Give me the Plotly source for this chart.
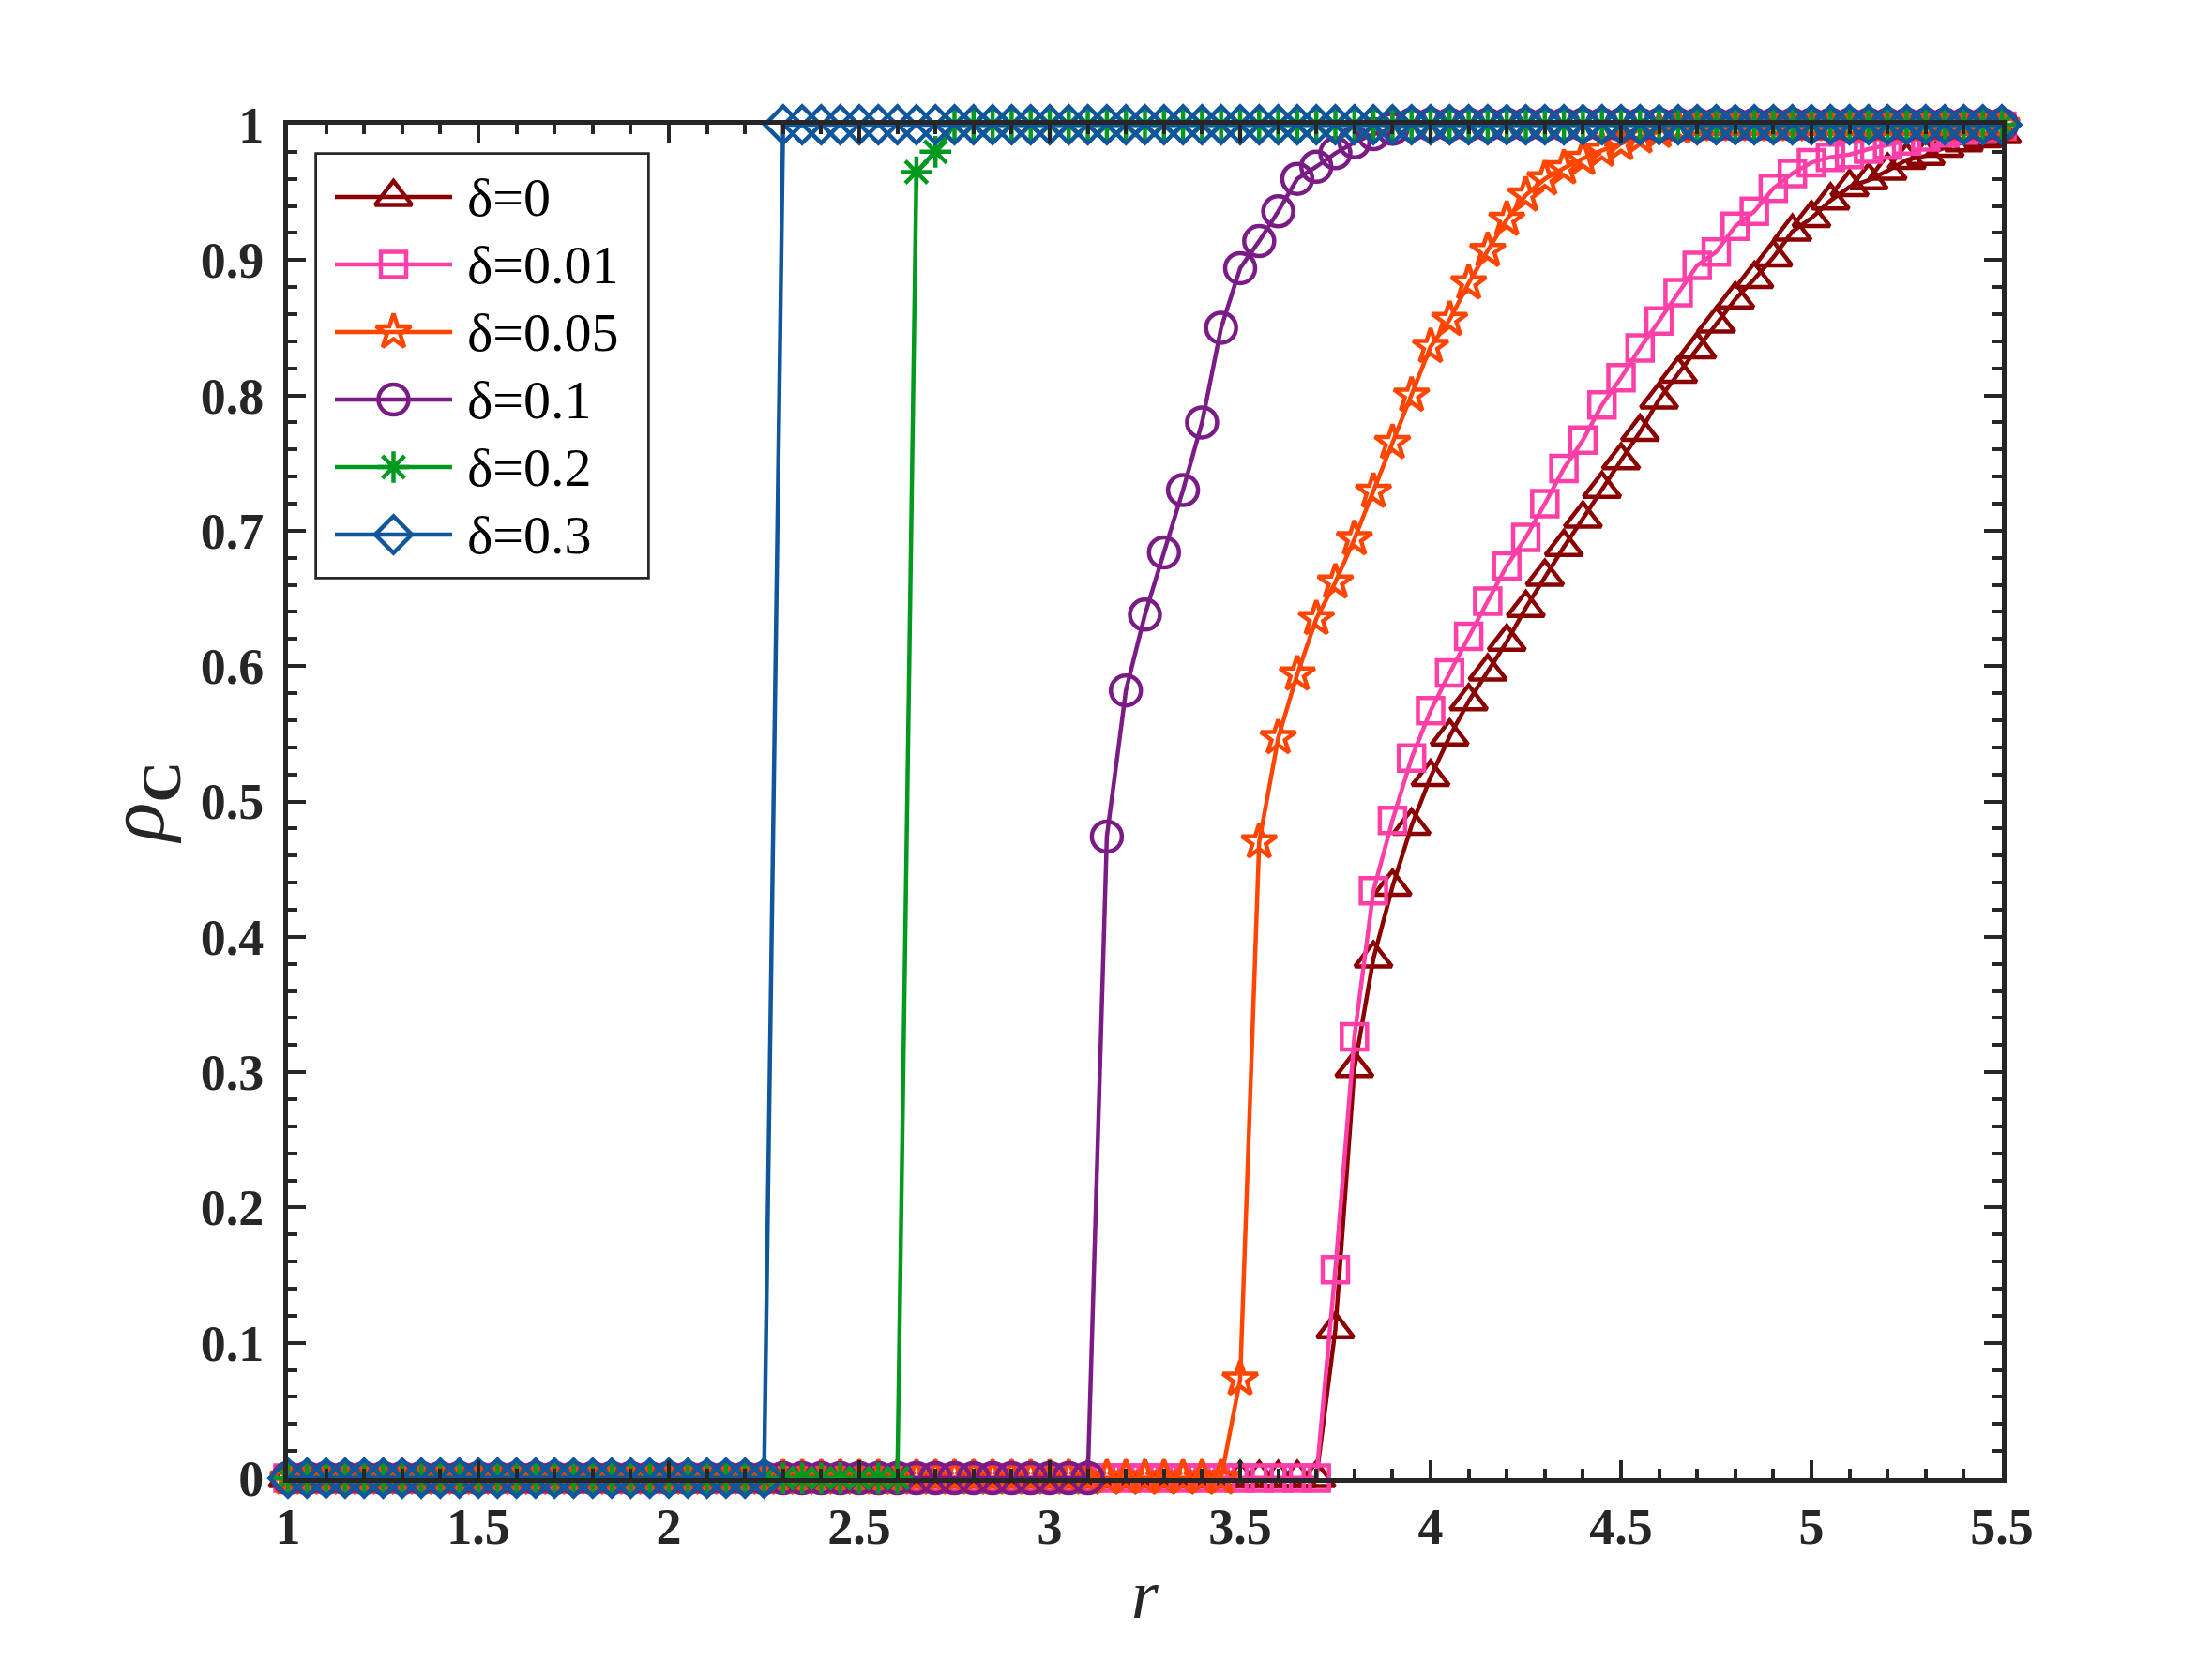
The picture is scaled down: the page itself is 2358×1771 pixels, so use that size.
import plotly.graph_objects as go

# ---------------- data ----------------
r = [1.00, 1.05, 1.10, 1.15, 1.20, 1.25, 1.30, 1.35, 1.40, 1.45,
     1.50, 1.55, 1.60, 1.65, 1.70, 1.75, 1.80, 1.85, 1.90, 1.95,
     2.00, 2.05, 2.10, 2.15, 2.20, 2.25, 2.30, 2.35, 2.40, 2.45,
     2.50, 2.55, 2.60, 2.65, 2.70, 2.75, 2.80, 2.85, 2.90, 2.95,
     3.00, 3.05, 3.10, 3.15, 3.20, 3.25, 3.30, 3.35, 3.40, 3.45,
     3.50, 3.55, 3.60, 3.65, 3.70, 3.75, 3.80, 3.85, 3.90, 3.95,
     4.00, 4.05, 4.10, 4.15, 4.20, 4.25, 4.30, 4.35, 4.40, 4.45,
     4.50, 4.55, 4.60, 4.65, 4.70, 4.75, 4.80, 4.85, 4.90, 4.95,
     5.00, 5.05, 5.10, 5.15, 5.20, 5.25, 5.30, 5.35, 5.40, 5.45,
     5.50]

rho_d0 = [0, 0, 0, 0, 0, 0, 0, 0, 0, 0,
          0, 0, 0, 0, 0, 0, 0, 0, 0, 0,
          0, 0, 0, 0, 0, 0, 0, 0, 0, 0,
          0, 0, 0, 0, 0, 0, 0, 0, 0, 0,
          0, 0, 0, 0, 0, 0, 0, 0, 0, 0,
          0, 0, 0, 0, 0, 0.110, 0.303, 0.384, 0.437, 0.482,
          0.518, 0.548, 0.574, 0.596, 0.618, 0.643, 0.666, 0.688, 0.709, 0.731,
          0.752, 0.773, 0.797, 0.816, 0.834, 0.853, 0.871, 0.886, 0.902, 0.921,
          0.931, 0.944, 0.954, 0.959, 0.966, 0.974, 0.977, 0.983, 0.987, 0.990,
          0.993]

rho_d001 = [0, 0, 0, 0, 0, 0, 0, 0, 0, 0,
            0, 0, 0, 0, 0, 0, 0, 0, 0, 0,
            0, 0, 0, 0, 0, 0, 0, 0, 0, 0,
            0, 0, 0, 0, 0, 0, 0, 0, 0, 0,
            0, 0, 0, 0, 0, 0, 0, 0, 0, 0,
            0, 0, 0, 0, 0, 0.154, 0.326, 0.434, 0.486, 0.532,
            0.567, 0.595, 0.622, 0.648, 0.674, 0.695, 0.720, 0.746, 0.767, 0.793,
            0.813, 0.835, 0.855, 0.876, 0.896, 0.906, 0.925, 0.936, 0.953, 0.964,
            0.972, 0.976, 0.978, 0.982, 0.985, 0.988, 0.991, 0.994, 0.996, 0.998,
            0.999]

rho_d005 = [0, 0, 0, 0, 0, 0, 0, 0, 0, 0,
            0, 0, 0, 0, 0, 0, 0, 0, 0, 0,
            0, 0, 0, 0, 0, 0, 0, 0, 0, 0,
            0, 0, 0, 0, 0, 0, 0, 0, 0, 0,
            0, 0, 0, 0, 0, 0, 0, 0, 0, 0,
            0.073, 0.470, 0.547, 0.594, 0.635, 0.662, 0.694, 0.729, 0.765, 0.800,
            0.836, 0.856, 0.883, 0.907, 0.930, 0.948, 0.960, 0.968, 0.975, 0.981,
            0.986, 0.991, 0.995, 0.998, 1, 1, 1, 1, 1, 1,
            1, 1, 1, 1, 1, 1, 1, 1, 1, 1,
            1]

rho_d01 = [0, 0, 0, 0, 0, 0, 0, 0, 0, 0,
           0, 0, 0, 0, 0, 0, 0, 0, 0, 0,
           0, 0, 0, 0, 0, 0, 0, 0, 0, 0,
           0, 0, 0, 0, 0, 0, 0, 0, 0, 0,
           0, 0, 0, 0.474, 0.582, 0.638, 0.684, 0.730, 0.780, 0.850,
           0.894, 0.914, 0.936, 0.960, 0.969, 0.979, 0.987, 0.993, 0.997, 1,
           1, 1, 1, 1, 1, 1, 1, 1, 1, 1,
           1, 1, 1, 1, 1, 1, 1, 1, 1, 1,
           1, 1, 1, 1, 1, 1, 1, 1, 1, 1,
           1]

rho_d02 = [0, 0, 0, 0, 0, 0, 0, 0, 0, 0,
           0, 0, 0, 0, 0, 0, 0, 0, 0, 0,
           0, 0, 0, 0, 0, 0, 0, 0, 0, 0,
           0, 0, 0, 0.965, 0.980, 1, 1, 1, 1, 1,
           1, 1, 1, 1, 1, 1, 1, 1, 1, 1,
           1, 1, 1, 1, 1, 1, 1, 1, 1, 1,
           1, 1, 1, 1, 1, 1, 1, 1, 1, 1,
           1, 1, 1, 1, 1, 1, 1, 1, 1, 1,
           1, 1, 1, 1, 1, 1, 1, 1, 1, 1,
           1]

rho_d03 = [0, 0, 0, 0, 0, 0, 0, 0, 0, 0,
           0, 0, 0, 0, 0, 0, 0, 0, 0, 0,
           0, 0, 0, 0, 0, 0, 1, 1, 1, 1,
           1, 1, 1, 1, 1, 1, 1, 1, 1, 1,
           1, 1, 1, 1, 1, 1, 1, 1, 1, 1,
           1, 1, 1, 1, 1, 1, 1, 1, 1, 1,
           1, 1, 1, 1, 1, 1, 1, 1, 1, 1,
           1, 1, 1, 1, 1, 1, 1, 1, 1, 1,
           1, 1, 1, 1, 1, 1, 1, 1, 1, 1,
           1]

series_names = ["δ=0", "δ=0.01", "δ=0.05", "δ=0.1", "δ=0.2", "δ=0.3"]
series_values = [rho_d0, rho_d001, rho_d005, rho_d01, rho_d02, rho_d03]

x_tick_vals = [1, 1.5, 2, 2.5, 3, 3.5, 4, 4.5, 5, 5.5]
x_tick_text = ["1", "1.5", "2", "2.5", "3", "3.5", "4", "4.5", "5", "5.5"]
y_tick_vals = [0, 0.1, 0.2, 0.3, 0.4, 0.5, 0.6, 0.7, 0.8, 0.9, 1]
y_tick_text = ["0", "0.1", "0.2", "0.3", "0.4", "0.5", "0.6", "0.7", "0.8", "0.9", "1"]

# ---------------- styles ----------------
colors = ["#8B0000", "#FF3FA8", "#FF4500", "#7B1C86", "#019A1F", "#0F569C"]
symbols = ["triangle-up-open", "square-open", "star-open", "circle-open",
           "asterisk-open", "diamond-open"]
msizes = [34, 27, 28, 32, 28, 30]
LINE_W = 4.5
MLINE_W = 4.5
AX_COLOR = "#262626"
SERIF = "Liberation Serif"

W, H = 2358, 1771
L, R, T, B = 307, W - 2134, 133, H - 1576

fig = go.Figure()

for name, vals, c, s, ms in zip(series_names, series_values, colors, symbols, msizes):
    fig.add_trace(go.Scatter(
        x=r, y=vals, mode="lines+markers", name=name,
        line=dict(color=c, width=LINE_W),
        marker=dict(symbol=s, size=ms, color=c, line=dict(color=c, width=MLINE_W)),
        cliponaxis=False, showlegend=False,
    ))

# ---------------- hand-built legend (box in pixel units) ----------------
box_x0, box_x1, box_y0, box_y1 = 338, 690, 165, 615   # page pixels
box_w, box_h = box_x1 - box_x0, box_y1 - box_y0
pw, ph = W - L - R, H - T - B
dom_x = [(box_x0 - L) / pw, (box_x1 - L) / pw]
dom_y = [(H - B - box_y1) / ph, (H - B - box_y0) / ph]

fig.add_shape(type="rect", xref="paper", yref="paper",
              x0=dom_x[0], x1=dom_x[1], y0=dom_y[0], y1=dom_y[1],
              line=dict(color=AX_COLOR, width=5.5), fillcolor="white", layer="below")

row0, row_step = 45, 72
seg_x0, seg_x1, txt_x = 19, 144, 158
for i, (name, c, s, ms) in enumerate(zip(series_names, colors, symbols, msizes)):
    yy = row0 + row_step * i
    fig.add_trace(go.Scatter(
        x=[seg_x0, seg_x1], y=[yy, yy], mode="lines", xaxis="x2", yaxis="y2",
        line=dict(color=c, width=LINE_W), showlegend=False, hoverinfo="skip"))
    fig.add_trace(go.Scatter(
        x=[(seg_x0 + seg_x1) / 2], y=[yy], mode="markers", xaxis="x2", yaxis="y2",
        marker=dict(symbol=s, size=ms, color=c, line=dict(color=c, width=MLINE_W)),
        showlegend=False, hoverinfo="skip", cliponaxis=False))
    fig.add_annotation(x=txt_x, y=yy, xref="x2", yref="y2", text=name,
                       showarrow=False, xanchor="left", yanchor="middle",
                       font=dict(family=SERIF, size=58, color="black"))

tickfont = dict(family=SERIF, size=54, color=AX_COLOR, weight="bold")

fig.update_layout(
    width=W, height=H,
    margin=dict(l=L, r=R, t=T, b=B, pad=0),
    paper_bgcolor="white", plot_bgcolor="white",
    showlegend=False,
    xaxis=dict(
        range=[1, 5.5], tickmode="array", tickvals=x_tick_vals, ticktext=x_tick_text,
        ticks="inside", ticklen=19, tickwidth=4, tickcolor=AX_COLOR,
        minor=dict(ticks="inside", ticklen=10, tickwidth=4, tickcolor=AX_COLOR,
                   tickmode="linear", tick0=1, dtick=0.1),
        showline=True, linewidth=5, linecolor=AX_COLOR, mirror="allticks",
        showgrid=False, zeroline=False, tickfont=tickfont, ticklabelstandoff=0,
        title=dict(text="<i>r</i>", font=dict(family=SERIF, size=74, color=AX_COLOR),
                   standoff=18),
    ),
    yaxis=dict(
        range=[0, 1], tickmode="array", tickvals=y_tick_vals, ticktext=y_tick_text,
        ticks="inside", ticklen=19, tickwidth=4, tickcolor=AX_COLOR,
        minor=dict(ticks="inside", ticklen=10, tickwidth=4, tickcolor=AX_COLOR,
                   tickmode="linear", tick0=0, dtick=0.02),
        showline=True, linewidth=5, linecolor=AX_COLOR, mirror="allticks",
        showgrid=False, zeroline=False, tickfont=tickfont, ticklabelstandoff=10,
        title=dict(text="<i>ρ</i><sub><b>C</b></sub>",
                   font=dict(family=SERIF, size=86, color=AX_COLOR), standoff=12),
    ),
    xaxis2=dict(domain=dom_x, range=[0, box_w], anchor="y2", visible=False,
                fixedrange=True),
    yaxis2=dict(domain=dom_y, range=[box_h, 0], anchor="x2", visible=False,
                fixedrange=True),
)

fig.write_html("out.html", config={"displayModeBar": False},
               post_script="document.body.style.margin='0';")
